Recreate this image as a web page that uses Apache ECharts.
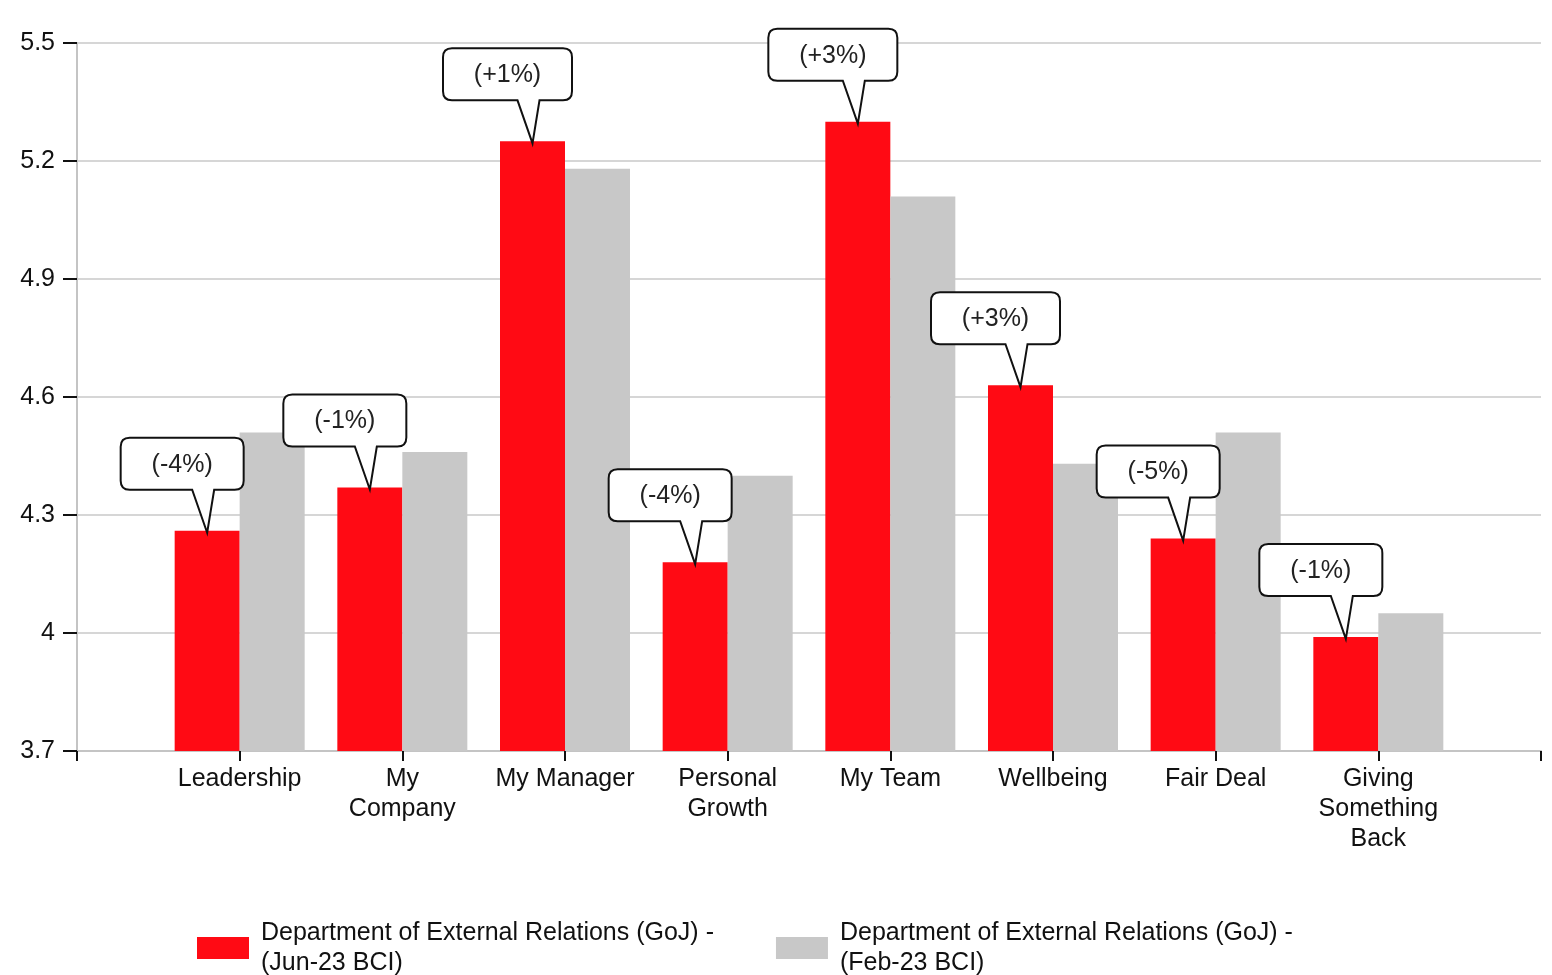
<!DOCTYPE html>
<html>
<head>
<meta charset="utf-8">
<script src="https://cdn.jsdelivr.net/npm/echarts@6/dist/echarts.min.js"></script>
<style>
  html, body { margin: 0; padding: 0; background: #fff; }
  #main { width: 1552px; height: 975px; }
</style>
</head>
<body>
<div id="main"></div>
<script>
// categories (blank ends give the empty space before/after the bars)
const categories = ['', 'Leadership', 'My\nCompany', 'My Manager', 'Personal\nGrowth',
  'My Team', 'Wellbeing', 'Fair Deal', 'Giving\nSomething\nBack', ''];
const jun23 = [4.26, 4.37, 5.25, 4.18, 5.30, 4.63, 4.24, 3.99];
const feb23 = [4.51, 4.46, 5.18, 4.40, 5.11, 4.43, 4.51, 4.05];
const changeLabels = ['(-4%)', '(-1%)', '(+1%)', '(-4%)', '(+3%)', '(+3%)', '(-5%)', '(-1%)'];
const seriesNames = ['Department of External Relations (GoJ) -\n(Jun-23 BCI)',
  'Department of External Relations (GoJ) -\n(Feb-23 BCI)'];

const yBase = 3.7, yTop = 5.5, yStep = 0.3;   // axis drawn as offset from 3.7
const FONT = '"Liberation Sans", Arial, sans-serif';
const BAR_W = 65;

function shift(arr) {
  return [null, ...arr.map(v => +(v - yBase).toFixed(4)), null];
}

const measureCtx = document.createElement('canvas').getContext('2d');
measureCtx.font = '25px ' + FONT;

// speech bubble over each red bar
function renderBubble(params, api) {
  const idx = api.value(0);
  const pt = api.coord([idx, api.value(1)]);
  const tx = pt[0] - BAR_W / 2, ty = pt[1] + 2;
  const text = changeLabels[idx - 1];
  const w = Math.round(measureCtx.measureText(text).width) + 62, h = 52, r = 9;
  const cx = tx - 25;
  const x0 = cx - w / 2, x1 = cx + w / 2, y1 = ty - 43, y0 = y1 - h;
  const d = 'M' + (x0 + r) + ' ' + y0 + ' L' + (x1 - r) + ' ' + y0 +
    ' Q' + x1 + ' ' + y0 + ' ' + x1 + ' ' + (y0 + r) +
    ' L' + x1 + ' ' + (y1 - r) + ' Q' + x1 + ' ' + y1 + ' ' + (x1 - r) + ' ' + y1 +
    ' L' + (tx + 7) + ' ' + y1 + ' L' + tx + ' ' + ty + ' L' + (tx - 15) + ' ' + y1 +
    ' L' + (x0 + r) + ' ' + y1 + ' Q' + x0 + ' ' + y1 + ' ' + x0 + ' ' + (y1 - r) +
    ' L' + x0 + ' ' + (y0 + r) + ' Q' + x0 + ' ' + y0 + ' ' + (x0 + r) + ' ' + y0 + ' Z';
  return {
    type: 'group',
    children: [
      { type: 'path', shape: { pathData: d }, style: { fill: '#fff', stroke: '#111', lineWidth: 2 } },
      { type: 'text', style: { text: text, x: cx, y: (y0 + y1) / 2 + 1, align: 'center', verticalAlign: 'middle',
          fontSize: 25, fontFamily: FONT, fill: '#222' } }
    ]
  };
}

const chart = echarts.init(document.getElementById('main'));
chart.setOption({
  animation: false,
  grid: { left: 77, right: 11, top: 43, bottom: 224, containLabel: false },
  legend: {
    data: seriesNames,
    left: 192, top: 913,
    icon: 'rect', itemWidth: 52, itemHeight: 22, itemGap: 62,
    textStyle: { fontSize: 25, lineHeight: 30, color: '#111', fontFamily: FONT, padding: [0, 0, 0, 7] }
  },
  xAxis: {
    type: 'category',
    data: categories,
    boundaryGap: false,
    axisLine: { lineStyle: { color: '#c4c4c4', width: 2 } },
    axisTick: { show: true, interval: 0, length: 10, lineStyle: { color: '#111', width: 2 } },
    axisLabel: { interval: 0, fontSize: 25, lineHeight: 30, color: '#111', fontFamily: FONT, margin: 13 },
    splitLine: { show: false }
  },
  yAxis: {
    type: 'value',
    min: 0, max: +(yTop - yBase).toFixed(1), interval: yStep,
    axisLine: { show: true, lineStyle: { color: '#c4c4c4', width: 2 } },
    axisTick: { show: true, inside: false, length: 14, lineStyle: { color: '#111', width: 2 } },
    axisLabel: { fontSize: 25, color: '#111', fontFamily: FONT, margin: 22,
      formatter: v => String(+(v + yBase).toFixed(1)) },
    splitLine: { lineStyle: { color: '#d6d6d6', width: 2 } }
  },
  series: [
    { name: seriesNames[0], type: 'bar', data: shift(jun23), barWidth: BAR_W, barGap: '0%',
      itemStyle: { color: '#ff0a14' } },
    { name: seriesNames[1], type: 'bar', data: shift(feb23), barWidth: BAR_W, barGap: '0%',
      itemStyle: { color: '#c8c8c8' } },
    { type: 'custom', z: 5, clip: false,
      data: jun23.map((v, i) => [i + 1, +(v - yBase).toFixed(4)]),
      encode: { x: 0, y: 1 },
      renderItem: renderBubble }
  ]
});
</script>
</body>
</html>
